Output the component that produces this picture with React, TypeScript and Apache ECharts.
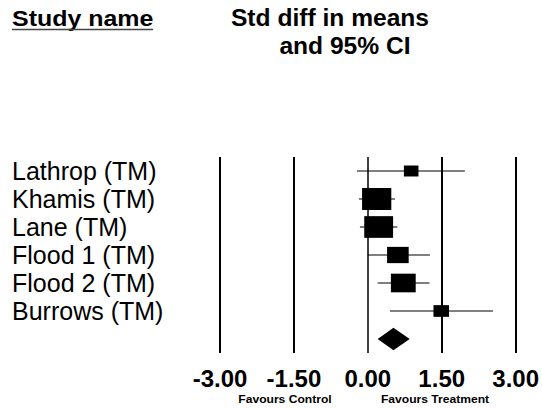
import React, { useEffect, useRef } from "react";
import * as echarts from "echarts";

const studies = ["Lathrop (TM)", "Khamis (TM)", "Lane (TM)", "Flood 1 (TM)", "Flood 2 (TM)", "Burrows (TM)"];
const effects = [0.88, 0.18, 0.22, 0.61, 0.72, 1.49];
const lowers = [-0.22, -0.18, -0.16, 0.0, 0.2, 0.45];
const uppers = [1.97, 0.55, 0.6, 1.26, 1.25, 2.54];
const weights = [6.6, 26.5, 25.8, 14.5, 19.1, 7.5];
const summaryEffect = 0.52;
const summaryLower = 0.2;
const summaryUpper = 0.85;
const ticks = [-3, -1.5, 0, 1.5, 3];

const FONT = 'Arial, "Liberation Sans", sans-serif';

export default function App() {
  const ref = useRef<HTMLDivElement>(null);
  useEffect(() => {
    if (!ref.current) return;
    const chart = echarts.init(ref.current, undefined, { renderer: "svg" });
    const studyData = studies.map((s, i) => [effects[i], i, lowers[i], uppers[i], weights[i]]);
    const summaryData = [[summaryEffect, studies.length, summaryLower, summaryUpper]];
    const headStyle = { fontFamily: FONT, fontWeight: "bold", fontSize: 23, fill: "#000", textVerticalAlign: "middle" };
    const smallStyle = { fontFamily: FONT, fontWeight: "bold", fontSize: 11, fill: "#000", textAlign: "center", textVerticalAlign: "middle" };
    chart.setOption({
      animation: false,
      backgroundColor: "#ffffff",
      grid: { left: 220, right: 24, top: 157, bottom: 55, containLabel: false },
      xAxis: {
        type: "value",
        min: -3,
        max: 3,
        interval: 1.5,
        axisLine: { show: false },
        axisTick: { show: false },
        splitLine: { show: false },
        axisLabel: {
          margin: 13,
          color: "#000",
          fontFamily: FONT,
          fontWeight: "bold",
          fontSize: 24,
          formatter: (v: number) => v.toFixed(2),
        },
      },
      yAxis: {
        type: "category",
        inverse: true,
        data: [...studies, ""],
        axisLine: { show: false },
        axisTick: { show: false },
        splitLine: { show: false },
        axisLabel: {
          interval: 0,
          align: "left",
          margin: 208,
          color: "#000",
          fontFamily: FONT,
          fontSize: 25,
          verticalAlign: "middle",
        },
      },
      graphic: [
        { type: "text", x: 12, y: 18, scaleX: 1.085, style: { text: "Study name", ...headStyle } },
        { type: "line", shape: { x1: 12, y1: 29.5, x2: 153, y2: 29.5 }, style: { stroke: "#444", lineWidth: 1.5 } },
        { type: "text", x: 330, y: 18, scaleX: 1.07, style: { text: "Std diff in means", ...headStyle, textAlign: "center" } },
        { type: "text", x: 345, y: 46, scaleX: 1.07, style: { text: "and 95% CI", ...headStyle, textAlign: "center" } },
        { type: "text", x: 285, y: 399, scaleX: 1.1, style: { text: "Favours Control", ...smallStyle } },
        { type: "text", x: 435, y: 399, scaleX: 1.1, style: { text: "Favours Treatment", ...smallStyle } },
      ],
      series: [
        {
          type: "custom",
          silent: true,
          data: studyData,
          renderItem: (params: any, api: any) => {
            const y = api.coord([0, api.value(1)])[1];
            const xc = api.coord([api.value(0), api.value(1)])[0];
            const xl = api.coord([api.value(2), api.value(1)])[0];
            const xr = api.coord([api.value(3), api.value(1)])[0];
            const h = 4.27 * Math.sqrt(api.value(4));
            const w = h * 1.33;
            return {
              type: "group",
              children: [
                { type: "line", shape: { x1: xl, y1: y, x2: xr, y2: y }, style: { stroke: "#000", lineWidth: 1.2 } },
                { type: "rect", shape: { x: xc - w / 2, y: y - h / 2, width: w, height: h }, style: { fill: "#000" } },
              ],
            };
          },
          markLine: {
            silent: true,
            symbol: "none",
            label: { show: false },
            data: ticks.map((t) => ({ xAxis: t, lineStyle: { color: "#000", type: "solid", width: t === 0 ? 1.5 : 2 } })),
          },
          z: 3,
        },
        {
          type: "custom",
          silent: true,
          data: summaryData,
          renderItem: (params: any, api: any) => {
            const y = api.coord([0, api.value(1)])[1];
            const xc = api.coord([api.value(0), api.value(1)])[0];
            const xl = api.coord([api.value(2), api.value(1)])[0];
            const xr = api.coord([api.value(3), api.value(1)])[0];
            const hh = 11.3;
            return {
              type: "polygon",
              shape: { points: [[xl, y], [xc, y - hh], [xr, y], [xc, y + hh]] },
              style: { fill: "#000" },
            };
          },
          z: 3,
        },
      ],
    });
    return () => chart.dispose();
  }, []);
  return <div ref={ref} style={{ position: "fixed", left: 0, top: 0, width: 542, height: 408, background: "#fff" }} />;
}
